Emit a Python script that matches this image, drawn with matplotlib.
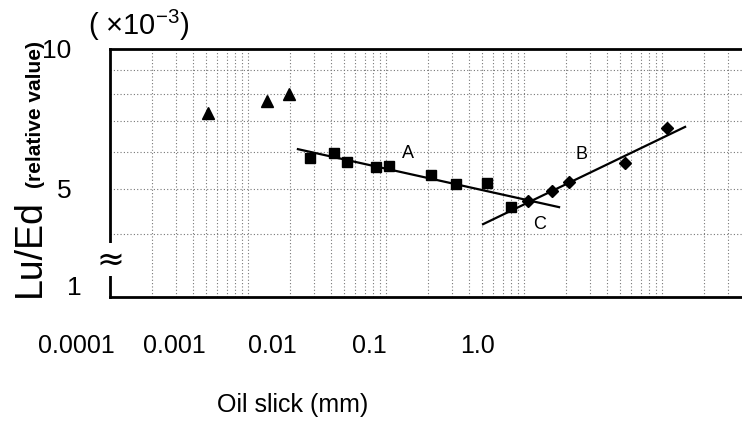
import numpy as np
import matplotlib.pyplot as plt
from matplotlib.ticker import FixedLocator, NullFormatter

# triangles (thin film, no fit)
tri_x = [5.1e-4, 1.37e-3, 1.98e-3]
tri_y = [7.28, 7.73, 8.0]
# squares (series A)
sq_x = [2.81e-3, 4.2e-3, 5.2e-3, 8.47e-3, 1.05e-2, 2.12e-2, 3.21e-2, 5.4e-2, 8.05e-2]
sq_y = [5.83, 5.97, 5.71, 5.57, 5.60, 5.36, 5.13, 5.15, 4.57]
# diamonds (series B)
dia_x = [0.107, 0.160, 0.212, 0.540, 1.09]
dia_y = [4.71, 4.95, 5.18, 5.69, 6.76]
# fitted lines, end points
line_a_x = [2.30e-3, 0.1795]
line_a_y = [6.09, 4.57]
line_b_x = [0.0505, 1.47]
line_b_y = [4.20, 6.80]
# curve labels
curve_labels = ["A", "B", "C"]
curve_label_x = [0.0144, 0.259, 0.1306]
curve_label_y = [5.95, 5.92, 4.20]

xtick_labels = ["0.0001", "0.001", "0.01", "0.1", "1.0"]
ytick_vals = [5, 10]
ygrid_minor = [4, 6, 7, 8, 9]

W, H = 742, 424
font = ["Liberation Sans", "DejaVu Sans"]

fig = plt.figure(figsize=(W / 100, H / 100), dpi=100)
ax = fig.add_axes([110 / W, 1 - 297 / H, 1 - 110 / W, (297 - 49) / H])
ax.set_xscale("log"); ax.set_yscale("log")
ax.set_xlim(1e-4, 10 ** ((742 - 110) / 138 - 4))
ax.set_ylim(10 ** (1 - 248 / 465), 10)

grid_kw = dict(color="#777777", linestyle=(0, (1, 2)), linewidth=0.8)
ax.grid(True, which="both", axis="x", **grid_kw)
ax.yaxis.set_major_locator(FixedLocator(ytick_vals))
ax.yaxis.set_minor_locator(FixedLocator(ygrid_minor))
ax.yaxis.set_minor_formatter(NullFormatter())
ax.grid(True, which="both", axis="y", **grid_kw)
ax.set_yticklabels([str(v) for v in ytick_vals], fontfamily=font, fontsize=19)
ax.xaxis.set_major_formatter(NullFormatter())
ax.xaxis.set_minor_formatter(NullFormatter())
ax.tick_params(which="both", length=0)
ax.tick_params(axis="y", pad=28)

for s in ["left", "top", "bottom"]:
    ax.spines[s].set_linewidth(2)
ax.spines["right"].set_visible(False)

ax.plot(line_a_x, line_a_y, color="black", lw=1.6)
ax.plot(line_b_x, line_b_y, color="black", lw=1.6)
ax.plot(tri_x, tri_y, "^", color="black", ms=8, ls="none")
ax.plot(sq_x, sq_y, "s", color="black", ms=7, ls="none")
ax.plot(dia_x, dia_y, "D", color="black", ms=6, ls="none")
for t, x, y in zip(curve_labels, curve_label_x, curve_label_y):
    ax.text(x, y, t, fontfamily=font, fontsize=13, ha="center", va="center")

# x tick labels sit where the original printed them (not on the grid decades)
for t, px in zip(xtick_labels, [76, 174, 272, 369, 478]):
    fig.text(px / W, 1 - 346 / H, t, fontfamily=font, fontsize=18, ha="center", va="center")
fig.text(82 / W, 1 - 288 / H, "1", fontfamily=font, fontsize=19, ha="right", va="center")
fig.text(88 / W, 1 - 35 / H, "( ×10$^{\\mathregular{-3}}$)", fontfamily=font, fontsize=21,
         ha="left", va="baseline")

# axis break mark
ax.text(0, 0.15, "≈", transform=ax.transAxes, fontsize=24, ha="center", va="center",
        bbox=dict(facecolor="white", edgecolor="none", pad=0))

fig.text(293 / W, 1 - 405 / H, "Oil slick (mm)", fontfamily=font, fontsize=18,
         ha="center", va="center")
fig.text(40 / W, 1 - 297 / H, "Lu/Ed", fontfamily=font, fontsize=27, rotation=90,
         rotation_mode="anchor", ha="left", va="baseline")
fig.text(41 / W, 1 - 188 / H, "(relative value)", fontfamily=font, fontsize=15,
         fontweight="bold", rotation=90, rotation_mode="anchor", ha="left", va="baseline")

fig.savefig("out.png", dpi=100)
